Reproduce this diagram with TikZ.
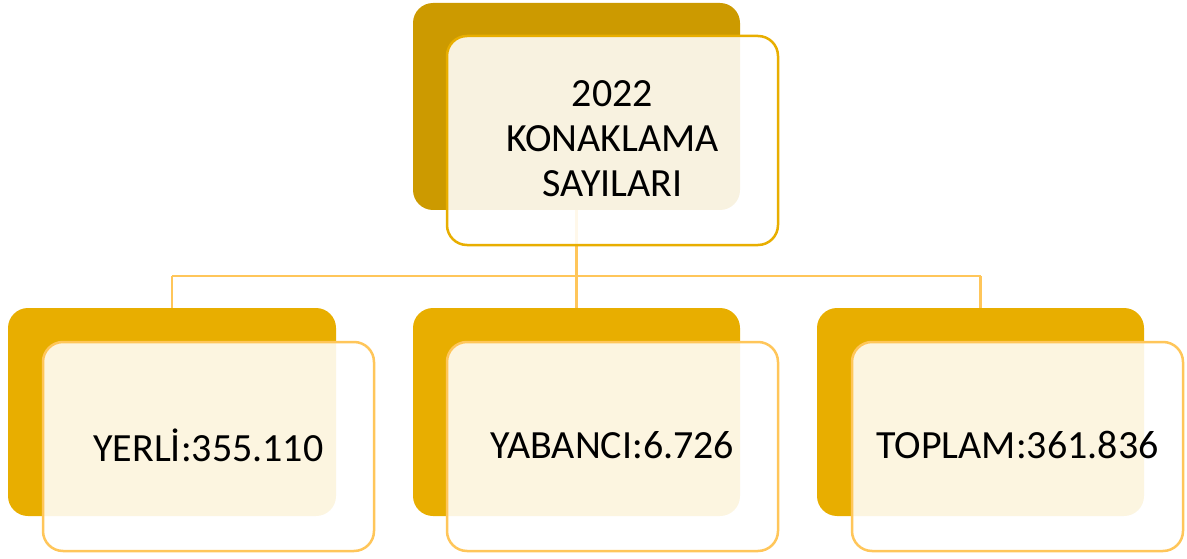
\documentclass[tikz,border=0pt]{standalone}
\usepackage{fontspec}
\setmainfont{Carlito}
\definecolor{topback}{HTML}{CC9A00}
\definecolor{botback}{HTML}{E8AE00}
\definecolor{topedge}{HTML}{E8AE00}
\definecolor{botedge}{HTML}{FFC65A}
\definecolor{linkc}{HTML}{FFC65A}
\tikzset{
  backbox/.style={rounded corners=20pt},
  frontbox/.style={rounded corners=20pt, fill=white, fill opacity=0.88, line width=2.5pt},
  lbl/.style={font=\fontsize{40}{45}\selectfont, align=center, text=black},
  link/.style={draw=linkc, line width=2.2pt}
}
\begin{document}
\begin{tikzpicture}[x=1pt,y=-1pt]
\useasboundingbox (0,0) rectangle (1187,559);
% back boxes
\fill[topback, backbox] (413,3) rectangle (740,210);
\fill[botback, backbox] (8,308) rectangle (336,516);
\fill[botback, backbox] (413,308) rectangle (740,516);
\fill[botback, backbox] (817,308) rectangle (1144,516);
\coordinate (tb) at (576.5,210);
\coordinate (b1) at (172,308);
\coordinate (b2) at (576.5,308);
\coordinate (b3) at (980.5,308);
\coordinate (hy) at (576.5,276);
% connectors
\draw[link] (tb) -- (hy);
\draw[link] (b1 |- hy) -- (b3 |- hy);
\draw[link] (b1 |- hy) -- (b1);
\draw[link] (b2 |- hy) -- (b2);
\draw[link] (b3 |- hy) -- (b3);
% front boxes
\draw[frontbox, draw=topedge] (447,36) rectangle (778,245);
\draw[frontbox, draw=botedge] (43,342) rectangle (374,551);
\draw[frontbox, draw=botedge] (447,342) rectangle (778,551);
\draw[frontbox, draw=botedge] (852,342) rectangle (1183,551);
% labels
\node[lbl] (top) at (612.5,139) {2022\\KONAKLAMA\\SAYILARI};
\node[lbl] (n1) at (208.5,445) {YERLİ:355.110};
\node[lbl] (n2) at (612.5,445) {YABANCI:6.726};
\node[lbl] (n3) at (1017.5,445) {TOPLAM:361.836};
\end{tikzpicture}
\end{document}
